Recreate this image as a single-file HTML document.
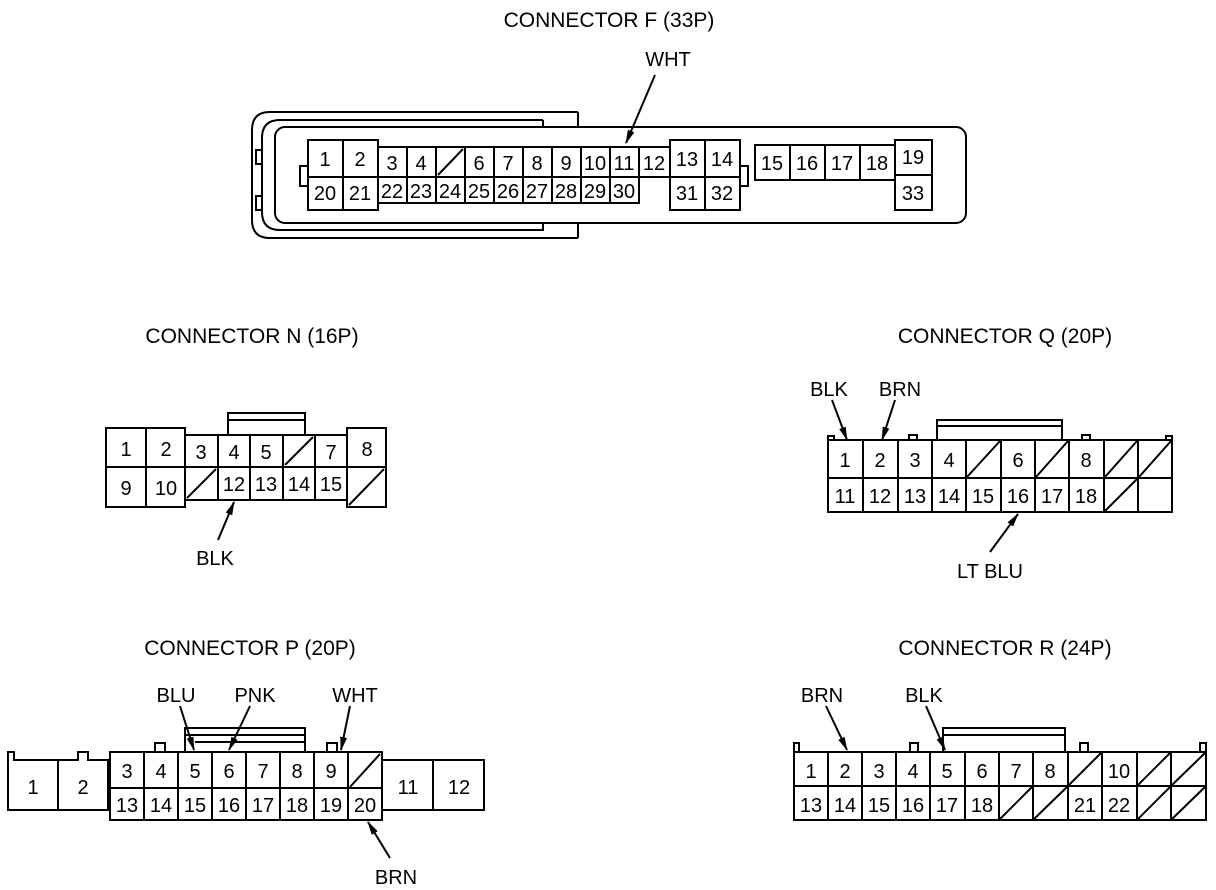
<!DOCTYPE html>
<html><head><meta charset="utf-8"><style>
html,body{margin:0;padding:0;background:#fff;}
svg{display:block;}
text{font-family:"Liberation Sans",sans-serif;font-size:20px;fill:#000;}
.c{text-anchor:middle;}
.t{font-size:21px;}
</style></head><body>
<svg width="1216" height="890" viewBox="0 0 1216 890" xmlns="http://www.w3.org/2000/svg">
<defs><marker id="ah" markerWidth="14" markerHeight="10" refX="13" refY="5" orient="auto" markerUnits="userSpaceOnUse"><path d="M0,1.5 L14,5 L0,8.5 z" fill="#000"/></marker></defs>
<g fill="none" stroke="#000" stroke-width="2">
<path d="M578,112 L270,112 Q252,112 252,130 L252,220 Q252,238 270,238 L578,238"/>
<path d="M578,112 L578,127"/><path d="M578,223 L578,238"/>
<path d="M543,120 L280,120 Q262,120 262,138 L262,212 Q262,230 280,230 L543,230 L543,223"/>
<path d="M543,120 L543,127"/>
<rect x="275" y="127" width="691" height="96" rx="10"/>
<rect x="300" y="166" width="8" height="20"/><rect x="740" y="166" width="8" height="20"/>
<rect x="256" y="150" width="6" height="14"/><rect x="256" y="196" width="6" height="14"/>
</g>
<g fill="#fff" stroke="#000" stroke-width="2">
<rect x="308" y="140" width="35" height="37"/><rect x="343" y="140" width="35" height="37"/>
<rect x="378" y="147" width="29" height="30"/><rect x="407" y="147" width="29" height="30"/><rect x="436" y="147" width="29" height="30"/><rect x="465" y="147" width="29" height="30"/><rect x="494" y="147" width="29" height="30"/><rect x="523" y="147" width="29" height="30"/><rect x="552" y="147" width="29" height="30"/><rect x="581" y="147" width="29" height="30"/><rect x="610" y="147" width="29" height="30"/><rect x="639" y="147" width="31" height="30"/>
<rect x="670" y="140" width="35" height="37"/><rect x="705" y="140" width="35" height="37"/>
<rect x="308" y="177" width="35" height="33"/><rect x="343" y="177" width="35" height="33"/>
<rect x="378" y="177" width="29" height="26"/><rect x="407" y="177" width="29" height="26"/><rect x="436" y="177" width="29" height="26"/><rect x="465" y="177" width="29" height="26"/><rect x="494" y="177" width="29" height="26"/><rect x="523" y="177" width="29" height="26"/><rect x="552" y="177" width="29" height="26"/><rect x="581" y="177" width="29" height="26"/><rect x="610" y="177" width="29" height="26"/>
<rect x="670" y="177" width="35" height="33"/><rect x="705" y="177" width="35" height="33"/>
<rect x="755" y="145" width="35" height="35"/><rect x="790" y="145" width="35" height="35"/><rect x="825" y="145" width="35" height="35"/><rect x="860" y="145" width="35" height="35"/>
<rect x="895" y="140" width="37" height="35"/><rect x="895" y="175" width="37" height="35"/>
</g>
<g stroke="#000" stroke-width="2" fill="none">
<line x1="438" y1="175" x2="463" y2="149"/>
<line x1="655" y1="75" x2="626" y2="143" marker-end="url(#ah)"/>
</g>
<g>
<text x="609" y="27" class="c t">CONNECTOR F (33P)</text>
<text x="668" y="66" class="c">WHT</text>
<text x="325" y="166" class="c">1</text><text x="360" y="166" class="c">2</text>
<text x="392" y="170" class="c">3</text><text x="421" y="170" class="c">4</text><text x="479" y="170" class="c">6</text><text x="508" y="170" class="c">7</text><text x="537" y="170" class="c">8</text><text x="566" y="170" class="c">9</text><text x="595" y="170" class="c">10</text><text x="624" y="170" class="c">11</text><text x="654" y="170" class="c">12</text>
<text x="687" y="166" class="c">13</text><text x="722" y="166" class="c">14</text>
<text x="325" y="200" class="c">20</text><text x="360" y="200" class="c">21</text>
<text x="392" y="198" class="c">22</text><text x="421" y="198" class="c">23</text><text x="450" y="198" class="c">24</text><text x="479" y="198" class="c">25</text><text x="508" y="198" class="c">26</text><text x="537" y="198" class="c">27</text><text x="566" y="198" class="c">28</text><text x="595" y="198" class="c">29</text><text x="624" y="198" class="c">30</text>
<text x="687" y="200" class="c">31</text><text x="722" y="200" class="c">32</text>
<text x="772" y="170" class="c">15</text><text x="807" y="170" class="c">16</text><text x="842" y="170" class="c">17</text><text x="877" y="170" class="c">18</text>
<text x="913" y="164" class="c">19</text><text x="913" y="200" class="c">33</text>
</g>

<text x="252" y="343" class="c t">CONNECTOR N (16P)</text>
<g fill="#fff" stroke="#000" stroke-width="2">
<rect x="228" y="413" width="77" height="22"/><line x1="228" y1="420" x2="305" y2="420"/>
<rect x="106" y="428" width="40" height="39"/><rect x="146" y="428" width="39" height="39"/>
<rect x="185" y="435" width="33" height="32"/><rect x="218" y="435" width="32" height="32"/><rect x="250" y="435" width="33" height="32"/><rect x="283" y="435" width="32" height="32"/><rect x="315" y="435" width="32" height="32"/>
<rect x="347" y="428" width="39" height="39"/>
<rect x="106" y="467" width="40" height="40"/><rect x="146" y="467" width="39" height="40"/>
<rect x="185" y="467" width="33" height="33"/><rect x="218" y="467" width="32" height="33"/><rect x="250" y="467" width="33" height="33"/><rect x="283" y="467" width="32" height="33"/><rect x="315" y="467" width="32" height="33"/>
<rect x="347" y="467" width="39" height="40"/>
</g>
<g stroke="#000" stroke-width="2" fill="none">
<line x1="285" y1="465" x2="313" y2="437"/><line x1="187" y1="498" x2="216" y2="469"/><line x1="349" y1="505" x2="384" y2="469"/>
<line x1="218" y1="540" x2="234" y2="502" marker-end="url(#ah)"/>
</g>
<g>
<text x="126" y="456" class="c">1</text><text x="166" y="456" class="c">2</text><text x="201" y="459" class="c">3</text><text x="234" y="459" class="c">4</text><text x="266" y="459" class="c">5</text><text x="331" y="459" class="c">7</text><text x="367" y="456" class="c">8</text>
<text x="126" y="495" class="c">9</text><text x="166" y="495" class="c">10</text><text x="234" y="491" class="c">12</text><text x="266" y="491" class="c">13</text><text x="299" y="491" class="c">14</text><text x="331" y="491" class="c">15</text>
<text x="215" y="565" class="c">BLK</text>
</g>

<text x="1005" y="343" class="c t">CONNECTOR Q (20P)</text>
<g fill="#fff" stroke="#000" stroke-width="2">
<rect x="937" y="420" width="125" height="20"/><line x1="937" y1="426" x2="1062" y2="426"/>
<path d="M828,440 L828,436 L834,436 L834,440 M909,440 L909,435 L917,435 L917,440 M1082,440 L1082,435 L1090,435 L1090,440 M1166,440 L1166,436 L1172,436 L1172,440"/>
<rect x="828" y="440" width="35" height="38"/><rect x="863" y="440" width="35" height="38"/><rect x="898" y="440" width="34" height="38"/><rect x="932" y="440" width="34" height="38"/><rect x="966" y="440" width="35" height="38"/><rect x="1001" y="440" width="34" height="38"/><rect x="1035" y="440" width="34" height="38"/><rect x="1069" y="440" width="35" height="38"/><rect x="1104" y="440" width="34" height="38"/><rect x="1138" y="440" width="34" height="38"/>
<rect x="828" y="478" width="35" height="34"/><rect x="863" y="478" width="35" height="34"/><rect x="898" y="478" width="34" height="34"/><rect x="932" y="478" width="34" height="34"/><rect x="966" y="478" width="35" height="34"/><rect x="1001" y="478" width="34" height="34"/><rect x="1035" y="478" width="34" height="34"/><rect x="1069" y="478" width="35" height="34"/><rect x="1104" y="478" width="34" height="34"/><rect x="1138" y="478" width="34" height="34"/>
</g>
<g stroke="#000" stroke-width="2" fill="none">
<line x1="967" y1="477" x2="1000" y2="441"/><line x1="1036" y1="477" x2="1068" y2="441"/><line x1="1105" y1="477" x2="1137" y2="441"/><line x1="1139" y1="477" x2="1171" y2="441"/><line x1="1105" y1="511" x2="1137" y2="479"/>
<line x1="832" y1="400" x2="847" y2="440" marker-end="url(#ah)"/>
<line x1="895" y1="400" x2="882" y2="440" marker-end="url(#ah)"/>
<line x1="990" y1="552" x2="1018" y2="514" marker-end="url(#ah)"/>
</g>
<g>
<text x="845" y="467" class="c">1</text><text x="880" y="467" class="c">2</text><text x="915" y="467" class="c">3</text><text x="949" y="467" class="c">4</text><text x="1018" y="467" class="c">6</text><text x="1086" y="467" class="c">8</text>
<text x="845" y="503" class="c">11</text><text x="880" y="503" class="c">12</text><text x="915" y="503" class="c">13</text><text x="949" y="503" class="c">14</text><text x="983" y="503" class="c">15</text><text x="1018" y="503" class="c">16</text><text x="1052" y="503" class="c">17</text><text x="1086" y="503" class="c">18</text>
<text x="829" y="396" class="c">BLK</text><text x="900" y="396" class="c">BRN</text><text x="990" y="578" class="c">LT BLU</text>
</g>

<text x="250" y="655" class="c t">CONNECTOR P (20P)</text>
<g fill="#fff" stroke="#000" stroke-width="2">
<rect x="185" y="728" width="120" height="24"/><line x1="185" y1="735" x2="305" y2="735"/><line x1="195" y1="742" x2="305" y2="742"/>
<path d="M8,810 L8,752 L14,752 L14,760 L58,760 L58,810 z"/>
<path d="M58,810 L58,760 L78,760 L78,752 L88,752 L88,760 L108,760 L108,810 z"/>
<path d="M155,752 L155,743 L165,743 L165,752 M327,752 L327,743 L337,743 L337,752"/>
<rect x="110" y="752" width="34" height="36"/><rect x="144" y="752" width="34" height="36"/><rect x="178" y="752" width="34" height="36"/><rect x="212" y="752" width="34" height="36"/><rect x="246" y="752" width="34" height="36"/><rect x="280" y="752" width="34" height="36"/><rect x="314" y="752" width="34" height="36"/><rect x="348" y="752" width="34" height="36"/>
<rect x="110" y="788" width="34" height="32"/><rect x="144" y="788" width="34" height="32"/><rect x="178" y="788" width="34" height="32"/><rect x="212" y="788" width="34" height="32"/><rect x="246" y="788" width="34" height="32"/><rect x="280" y="788" width="34" height="32"/><rect x="314" y="788" width="34" height="32"/><rect x="348" y="788" width="34" height="32"/>
<rect x="382" y="760" width="51" height="50"/><rect x="433" y="760" width="51" height="50"/>
</g>
<g stroke="#000" stroke-width="2" fill="none">
<line x1="350" y1="787" x2="380" y2="754"/>
<line x1="180" y1="706" x2="194" y2="750" marker-end="url(#ah)"/>
<line x1="250" y1="706" x2="229" y2="750" marker-end="url(#ah)"/>
<line x1="350" y1="706" x2="341" y2="750" marker-end="url(#ah)"/>
<line x1="390" y1="858" x2="368" y2="822" marker-end="url(#ah)"/>
</g>
<g>
<text x="33" y="794" class="c">1</text><text x="83" y="794" class="c">2</text>
<text x="127" y="778" class="c">3</text><text x="161" y="778" class="c">4</text><text x="195" y="778" class="c">5</text><text x="229" y="778" class="c">6</text><text x="263" y="778" class="c">7</text><text x="297" y="778" class="c">8</text><text x="331" y="778" class="c">9</text>
<text x="127" y="812" class="c">13</text><text x="161" y="812" class="c">14</text><text x="195" y="812" class="c">15</text><text x="229" y="812" class="c">16</text><text x="263" y="812" class="c">17</text><text x="297" y="812" class="c">18</text><text x="331" y="812" class="c">19</text><text x="365" y="812" class="c">20</text>
<text x="408" y="794" class="c">11</text><text x="459" y="794" class="c">12</text>
<text x="176" y="702" class="c">BLU</text><text x="255" y="702" class="c">PNK</text><text x="355" y="702" class="c">WHT</text><text x="396" y="884" class="c">BRN</text>
</g>

<text x="1005" y="655" class="c t">CONNECTOR R (24P)</text>
<g fill="#fff" stroke="#000" stroke-width="2">
<rect x="943" y="728" width="122" height="24"/><line x1="943" y1="735" x2="1065" y2="735"/>
<path d="M794,752 L794,743 L799,743 L799,752 M910,752 L910,743 L918,743 L918,752 M1080,752 L1080,743 L1088,743 L1088,752 M1200,752 L1200,743 L1206,743 L1206,752"/>
<rect x="794" y="752" width="34" height="34"/><rect x="828" y="752" width="34" height="34"/><rect x="862" y="752" width="34" height="34"/><rect x="896" y="752" width="34" height="34"/><rect x="930" y="752" width="35" height="34"/><rect x="965" y="752" width="34" height="34"/><rect x="999" y="752" width="34" height="34"/><rect x="1033" y="752" width="35" height="34"/><rect x="1068" y="752" width="34" height="34"/><rect x="1102" y="752" width="35" height="34"/><rect x="1137" y="752" width="34" height="34"/><rect x="1171" y="752" width="35" height="34"/>
<rect x="794" y="786" width="34" height="34"/><rect x="828" y="786" width="34" height="34"/><rect x="862" y="786" width="34" height="34"/><rect x="896" y="786" width="34" height="34"/><rect x="930" y="786" width="35" height="34"/><rect x="965" y="786" width="34" height="34"/><rect x="999" y="786" width="34" height="34"/><rect x="1033" y="786" width="35" height="34"/><rect x="1068" y="786" width="34" height="34"/><rect x="1102" y="786" width="35" height="34"/><rect x="1137" y="786" width="34" height="34"/><rect x="1171" y="786" width="35" height="34"/>
</g>
<g stroke="#000" stroke-width="2" fill="none">
<line x1="1069" y1="785" x2="1101" y2="753"/><line x1="1138" y1="785" x2="1170" y2="753"/><line x1="1172" y1="785" x2="1205" y2="753"/>
<line x1="1000" y1="819" x2="1032" y2="787"/><line x1="1034" y1="819" x2="1067" y2="787"/><line x1="1138" y1="819" x2="1170" y2="787"/><line x1="1172" y1="819" x2="1205" y2="787"/>
<line x1="826" y1="706" x2="847" y2="750" marker-end="url(#ah)"/>
<line x1="926" y1="706" x2="945" y2="750" marker-end="url(#ah)"/>
</g>
<g>
<text x="811" y="778" class="c">1</text><text x="845" y="778" class="c">2</text><text x="879" y="778" class="c">3</text><text x="913" y="778" class="c">4</text><text x="947" y="778" class="c">5</text><text x="982" y="778" class="c">6</text><text x="1016" y="778" class="c">7</text><text x="1050" y="778" class="c">8</text><text x="1119" y="778" class="c">10</text>
<text x="811" y="812" class="c">13</text><text x="845" y="812" class="c">14</text><text x="879" y="812" class="c">15</text><text x="913" y="812" class="c">16</text><text x="947" y="812" class="c">17</text><text x="982" y="812" class="c">18</text><text x="1085" y="812" class="c">21</text><text x="1119" y="812" class="c">22</text>
<text x="822" y="702" class="c">BRN</text><text x="924" y="702" class="c">BLK</text>
</g>
</svg>
</body></html>
